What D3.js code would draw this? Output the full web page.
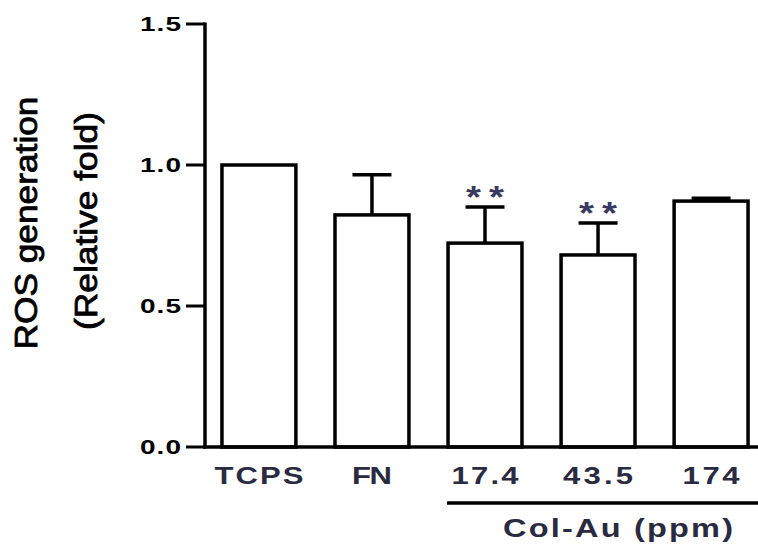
<!DOCTYPE html>
<html>
<head>
<meta charset="utf-8">
<script src="https://cdn.jsdelivr.net/npm/d3@7"></script>
<style>
  html, body { margin: 0; padding: 0; background: #fff; }
  svg { display: block; }
</style>
</head>
<body>
<svg id="chart" width="758" height="545"></svg>
<script>
const categories = ["TCPS", "FN", "17.4", "43.5", "174"];
const means = [1.0, 0.823, 0.723, 0.681, 0.872];
const errors = [0.0, 0.142, 0.128, 0.113, 0.010];
const significance = ["", "", "**", "**", ""];
const yTicks = [0.0, 0.5, 1.0, 1.5];
const yTickLabels = ["0.0", "0.5", "1.0", "1.5"];
const labelWidths = [89, 40, 67, 70, 57];
const groupLabel = "Col-Au (ppm)";
const yTitle1 = "ROS generation";
const yTitle2 = "(Relative fold)";

const svg = d3.select("#chart");
const ink = "#000";
const navy = "#2a2a40";
const font = "Liberation Sans, Arial, sans-serif";

// text stretched horizontally by sx, fitted to a total width
function wideText(parent, str, px, py, anchor, size, width, sx, fill, weight) {
  const g = parent.append("g").attr("transform", `translate(${px},${py}) scale(${sx},1)`);
  return g.append("text")
    .attr("x", 0).attr("y", 0)
    .attr("text-anchor", anchor)
    .attr("font-family", font)
    .attr("font-weight", weight || "bold").attr("font-size", size)
    .attr("textLength", width / sx).attr("lengthAdjust", "spacing")
    .attr("fill", fill)
    .text(str);
}

const y = d3.scaleLinear().domain([0, 1.5]).range([447, 24]);
const x = d3.scaleBand().domain(categories).range([205, 765])
  .paddingInner(0.346).paddingOuter(0.15);

// bars
const bars = svg.append("g");
categories.forEach((c, i) => {
  const x0 = x(c), w = x.bandwidth(), cx = x0 + w / 2;
  if (errors[i] > 0) {
    bars.append("line")
      .attr("x1", cx).attr("x2", cx)
      .attr("y1", y(means[i])).attr("y2", y(means[i] + errors[i]))
      .attr("stroke", ink).attr("stroke-width", 3.5);
    bars.append("line")
      .attr("x1", cx - 19.5).attr("x2", cx + 19.5)
      .attr("y1", y(means[i] + errors[i])).attr("y2", y(means[i] + errors[i]))
      .attr("stroke", ink).attr("stroke-width", 3.5);
  }
  bars.append("rect")
    .attr("x", x0).attr("y", y(means[i]))
    .attr("width", w).attr("height", y(0) - y(means[i]))
    .attr("fill", "#fff").attr("stroke", ink).attr("stroke-width", 3.5);
  if (significance[i]) {
    wideText(bars, significance[i], cx, y(means[i] + errors[i]) + 1, "middle",
      32, 38, 1.2, "#3a3a5e");
  }
});

// y axis
const yAxis = svg.append("g");
yAxis.append("line").attr("x1", 205).attr("x2", 205)
  .attr("y1", y(1.5) - 1.5).attr("y2", y(0) + 1.5)
  .attr("stroke", ink).attr("stroke-width", 3.5);
yTicks.forEach((t, i) => {
  yAxis.append("line").attr("x1", 186).attr("x2", 205)
    .attr("y1", y(t)).attr("y2", y(t))
    .attr("stroke", ink).attr("stroke-width", 3);
  wideText(yAxis, yTickLabels[i], 181, y(t) + 7, "end", 20, 41, 1.4, ink);
});

// x axis
svg.append("line").attr("x1", 203).attr("x2", 758)
  .attr("y1", y(0)).attr("y2", y(0))
  .attr("stroke", ink).attr("stroke-width", 3.5);

categories.forEach((c, i) => {
  wideText(svg, c, x(c) + x.bandwidth() / 2, 484, "middle", 23, labelWidths[i], 1.35, navy);
});

// group underline and label
svg.append("line").attr("x1", 447).attr("x2", 758)
  .attr("y1", 503).attr("y2", 503)
  .attr("stroke", ink).attr("stroke-width", 3.5);
wideText(svg, groupLabel, 618, 537, "middle", 25, 230, 1.3, navy);

// y title
svg.append("text")
  .attr("transform", "translate(37,223) rotate(-90)")
  .attr("text-anchor", "middle")
  .attr("font-family", font)
  .attr("font-size", 31)
  .attr("textLength", 253).attr("lengthAdjust", "spacingAndGlyphs")
  .attr("fill", ink).attr("stroke", ink).attr("stroke-width", 0.8)
  .text(yTitle1);
svg.append("text")
  .attr("transform", "translate(97,221) rotate(-90)")
  .attr("text-anchor", "middle")
  .attr("font-family", font)
  .attr("font-size", 31)
  .attr("textLength", 218).attr("lengthAdjust", "spacingAndGlyphs")
  .attr("fill", ink).attr("stroke", ink).attr("stroke-width", 0.8)
  .text(yTitle2);
</script>
</body>
</html>
